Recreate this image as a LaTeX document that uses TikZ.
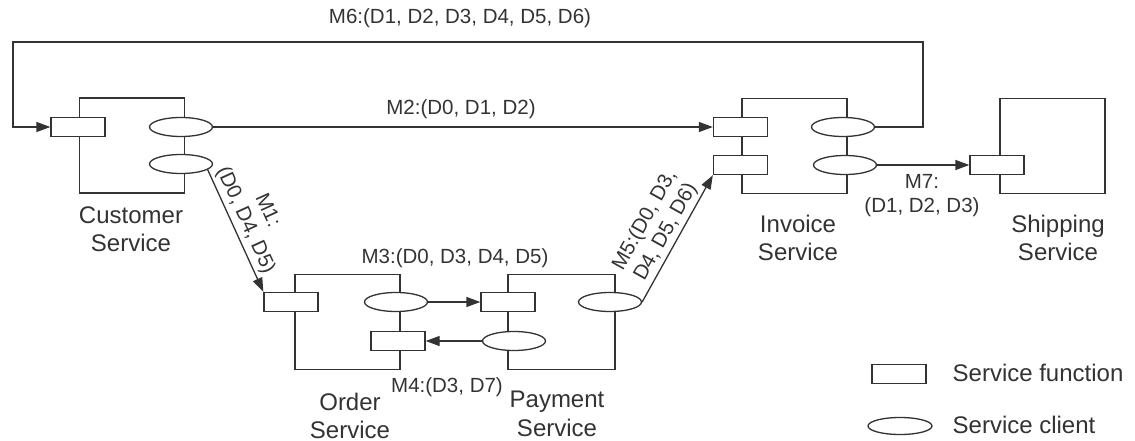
\documentclass[tikz,border=0pt]{standalone}
\usepackage{fontspec}
\setmainfont{Liberation Sans}
\usetikzlibrary{arrows.meta,shapes.geometric}
\definecolor{ink}{HTML}{333333}
\begin{document}
\begin{tikzpicture}[x=1pt,y=-1pt,color=ink,line width=1.3pt,
  svcbox/.style={draw,rectangle,minimum width=105pt,minimum height=95pt,inner sep=0pt},
  func/.style={draw,fill=white,rectangle,minimum width=54pt,minimum height=19pt,inner sep=0pt},
  cli/.style={draw,fill=white,ellipse,minimum width=63pt,minimum height=19pt,inner sep=0pt},
  svcname/.style={font=\fontsize{24}{28.5}\selectfont,align=center,inner sep=0pt},
  msg/.style={font=\fontsize{20.5}{24}\selectfont,align=center,inner sep=1pt},
  flow/.style={-{Triangle[length=14pt,width=10pt]}}]
\useasboundingbox (0,0) rectangle (1135,441);

% service containers
\node[svcbox] (cust) at (132,145.5) {};
\node[svcbox] (inv)  at (794.5,146) {};
\node[svcbox] (ship) at (1052.5,146) {};
\node[svcbox] (ord)  at (347.5,322) {};
\node[svcbox,minimum width=107pt] (pay) at (561.5,322) {};

% functions and clients
\node[func] (cfunc)  at (78,127) {};
\node[cli]  (ccli1)  at (181,127) {};
\node[cli]  (ccli2)  at (181,164) {};
\node[func] (ifunc1) at (740.5,127) {};
\node[func] (ifunc2) at (740.5,165) {};
\node[cli]  (icli1)  at (843,127) {};
\node[cli]  (icli2)  at (845,165) {};
\node[func] (sfunc)  at (997,165) {};
\node[func] (ofunc)  at (291,302) {};
\node[cli]  (ocli)   at (396,302) {};
\node[func] (ofunc2) at (398,341) {};
\node[func] (pfunc)  at (508,302) {};
\node[cli]  (pcli)   at (610,302) {};
\node[cli]  (pcli2)  at (514,341) {};

% service names
\node[svcname] (custname) at (131,229) {Customer\\Service};
\node[svcname] (invname)  at (798,238) {Invoice\\Service};
\node[svcname] (shipname) at (1058,238) {Shipping\\Service};
\node[svcname] (ordname)  at (350,416) {Order\\Service};
\node[svcname] (payname)  at (557,414) {Payment\\Service};

% messages
\coordinate (m6right) at (923,42);
\coordinate (m6left)  at (13,42);
\draw[flow] (icli1.east) -| (m6right) -- (m6left) |- (cfunc.west);
\node[msg] (m6) at (460,18) {M6:(D1, D2, D3, D4, D5, D6)};

\draw[flow] (ccli1.east) -- (ifunc1.west);
\node[msg] (m2) at (461,109) {M2:(D0, D1, D2)};

\draw[flow] (ccli2.-12) -- (ofunc.north west)
  node[msg,pos=0.46,sloped,above=2pt] (m1) {M1:\\(D0, D4, D5)};

\draw[flow] (ocli.east) -- (pfunc.west);
\node[msg] (m3) at (455,258) {M3:(D0, D3, D4, D5)};

\draw[flow] (pcli2.west) -- (ofunc2.east);
\node[msg] (m4) at (447,387) {M4:(D3, D7)};

\draw[flow] (pcli.east) -- (ifunc2.south west)
  node[msg,midway,sloped,above=2pt] (m5) {M5:(D0, D3,\\D4, D5, D6)};

\draw[flow] (icli2.east) -- (sfunc.west);
\node[msg] (m7) at (922,196) {M7:\\(D1, D2, D3)};

% legend
\node[func] (legfunc) at (899,374) {};
\node[svcname,anchor=west] (legfunctxt) at (952,373) {Service function};
\node[cli,minimum width=64pt,minimum height=17pt] (legcli) at (900,426) {};
\node[svcname,anchor=west] (legclitxt) at (952,425) {Service client};
\end{tikzpicture}
\end{document}
